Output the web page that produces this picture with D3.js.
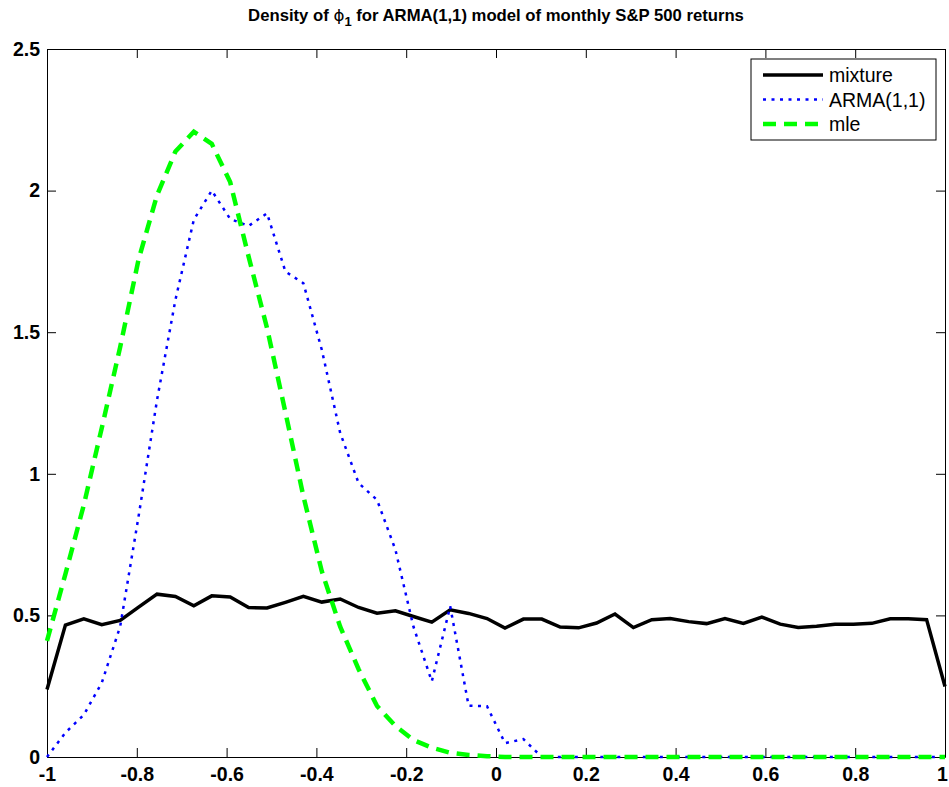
<!DOCTYPE html>
<html>
<head>
<meta charset="utf-8">
<script src="https://cdn.jsdelivr.net/npm/d3@7"></script>
<style>
  html, body { margin: 0; padding: 0; background: #fff; }
  svg { display: block; }
</style>
</head>
<body>
<svg id="chart" width="949" height="787"></svg>
<script>
// ---- data ----
const phiGrid = [-1.000,-0.959,-0.918,-0.878,-0.837,-0.796,-0.755,-0.714,-0.673,-0.633,
  -0.592,-0.551,-0.510,-0.469,-0.429,-0.388,-0.347,-0.306,-0.265,-0.224,
  -0.184,-0.143,-0.102,-0.061,-0.020,0.020,0.061,0.102,0.143,0.184,
  0.224,0.265,0.306,0.347,0.388,0.429,0.469,0.510,0.551,0.592,
  0.633,0.673,0.714,0.755,0.796,0.837,0.878,0.918,0.959,1.000];

const mixture = [0.238,0.466,0.488,0.467,0.482,0.529,0.575,0.567,0.534,0.569,
  0.565,0.528,0.526,0.546,0.567,0.547,0.558,0.528,0.508,0.516,
  0.496,0.476,0.520,0.507,0.489,0.455,0.487,0.487,0.459,0.456,
  0.473,0.505,0.457,0.485,0.489,0.478,0.471,0.489,0.472,0.494,
  0.469,0.457,0.462,0.469,0.469,0.472,0.488,0.488,0.485,0.249];

const arma11 = [0.0,0.086,0.149,0.262,0.461,0.850,1.260,1.614,1.897,2.000,
  1.900,1.875,1.920,1.714,1.673,1.438,1.144,0.967,0.908,0.732,
  0.461,0.267,0.532,0.181,0.179,0.049,0.063,0.0,0.0,0.0,
  0.0,0.0,0.0,0.0,0.0,0.0,0.0,0.0,0.0,0.0,
  0.0,0.0,0.0,0.0,0.0,0.0,0.0,0.0,0.0,0.0];

const mle = [0.410,0.646,0.890,1.162,1.448,1.757,1.983,2.138,2.208,2.165,
  2.030,1.767,1.515,1.217,0.921,0.656,0.460,0.310,0.180,0.110,
  0.060,0.033,0.015,0.007,0.003,0.0,0.0,0.0,0.0,0.0,
  0.0,0.0,0.0,0.0,0.0,0.0,0.0,0.0,0.0,0.0,
  0.0,0.0,0.0,0.0,0.0,0.0,0.0,0.0,0.0,0.0];

const xTickValues = [-1,-0.8,-0.6,-0.4,-0.2,0,0.2,0.4,0.6,0.8,1];
const xTickLabels = ["-1","-0.8","-0.6","-0.4","-0.2","0","0.2","0.4","0.6","0.8","1"];
const yTickValues = [0,0.5,1,1.5,2,2.5];
const yTickLabels = ["0","0.5","1","1.5","2","2.5"];
const seriesNames = ["mixture","ARMA(1,1)","mle"];

// ---- drawing ----
const svg = d3.select("#chart");
const L = 47, R = 945, T = 49, B = 757;
const x = d3.scaleLinear().domain([-1, 1]).range([L, R]);
const y = d3.scaleLinear().domain([0, 2.5]).range([B, T]);

const tickFont = "'Liberation Sans', Arial, Helvetica, sans-serif";

function styleAxis(g) {
  g.selectAll("path.domain").attr("stroke", "#000").attr("stroke-width", 1);
  g.selectAll(".tick line").attr("stroke", "#000").attr("stroke-width", 1);
  g.selectAll(".tick text").attr("fill", "#000")
    .style("font-family", tickFont).style("font-weight", "bold").style("font-size", "19.5px");
}

const xAxisG = svg.append("g").attr("transform", `translate(0,${B})`)
  .call(d3.axisBottom(x).tickValues(xTickValues)
    .tickFormat((d, i) => xTickLabels[i]).tickSizeInner(-9).tickSizeOuter(0).tickPadding(10))
  .call(styleAxis);
// keep the last label ("1") inside the window, as in the reference
xAxisG.selectAll(".tick text").filter(d => d === 1).attr("dx", -3);

svg.append("g").attr("transform", `translate(0,${T})`)
  .call(d3.axisTop(x).tickValues(xTickValues).tickFormat("").tickSizeInner(-9).tickSizeOuter(0))
  .call(styleAxis);
svg.append("g").attr("transform", `translate(${L},0)`)
  .call(d3.axisLeft(y).tickValues(yTickValues)
    .tickFormat((d, i) => yTickLabels[i]).tickSizeInner(-9).tickSizeOuter(0).tickPadding(7))
  .call(styleAxis);
svg.append("g").attr("transform", `translate(${R},0)`)
  .call(d3.axisRight(y).tickValues(yTickValues).tickFormat("").tickSizeInner(-9).tickSizeOuter(0))
  .call(styleAxis);

const styles = [
  { data: mixture, color: "#000000", width: 3.5, dash: null },
  { data: arma11,  color: "#0000ff", width: 2.5, dash: "3,5.5" },
  { data: mle,     color: "#00ff00", width: 4.5, dash: "13,8" }
];

const line = d3.line().x(d => x(d[0])).y(d => y(d[1]));
styles.forEach(s => {
  svg.append("path")
    .datum(phiGrid.map((p, i) => [p, s.data[i]]))
    .attr("fill", "none")
    .attr("stroke", s.color)
    .attr("stroke-width", s.width)
    .attr("stroke-linejoin", "miter")
    .attr("stroke-dasharray", s.dash)
    .attr("d", line);
});

// title
const title = svg.append("text")
  .attr("x", (L + R) / 2).attr("y", 21)
  .attr("text-anchor", "middle")
  .style("font-family", tickFont).style("font-weight", "bold").style("font-size", "16.7px");
title.append("tspan").text("Density of ");
title.append("tspan").text("ϕ").style("font-family", "'DejaVu Sans', sans-serif").style("font-weight", "normal");
title.append("tspan").attr("dy", 5).style("font-size", "13px").text("1");
title.append("tspan").attr("dy", -5).text(" for ARMA(1,1) model of monthly S&P 500 returns");

// legend
const lg = svg.append("g");
lg.append("rect").attr("x", 751).attr("y", 59).attr("width", 185).attr("height", 81)
  .attr("fill", "#fff").attr("stroke", "#000").attr("stroke-width", 1);
seriesNames.forEach((name, i) => {
  const yy = 75 + i * 24.5;
  lg.append("line").attr("x1", 763).attr("x2", 823).attr("y1", yy).attr("y2", yy)
    .attr("stroke", styles[i].color).attr("stroke-width", styles[i].width)
    .attr("stroke-dasharray", styles[i].dash);
  lg.append("text").attr("x", 829).attr("y", yy).attr("dy", "0.36em")
    .style("font-family", tickFont).style("font-size", "19.5px").attr("fill", "#000")
    .text(name);
});
</script>
</body>
</html>
